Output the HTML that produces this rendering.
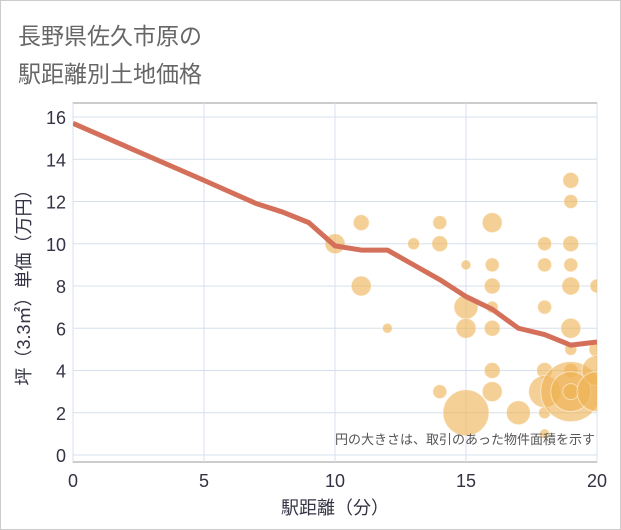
<!DOCTYPE html>
<html><head><meta charset="utf-8"><style>
body{margin:0;background:#fff;font-family:"Liberation Sans","Noto Sans CJK JP",sans-serif;}
#wrap{position:relative;width:619px;height:528px;border:1px solid #ccc;}
.t{position:absolute;left:17px;color:#666;font-size:23px;}
</style></head><body>
<div id="wrap">
<div class="t" style="top:16px">長野県佐久市原の</div>
<div class="t" style="top:54px">駅距離別土地価格</div>
<svg id="svg" width="621" height="530" style="position:absolute;left:-1px;top:-1px"><defs><clipPath id="cp"><rect x="73" y="103" width="524" height="359"/></clipPath></defs></svg>
</div>
<script>
const xTicks=[0,5,10,15,20];
const yTicks=[0,2,4,6,8,10,12,14,16];
const lineX=[0,5,7,8,9,10,11,12,13,14,15,16,17,18,19,20];
const lineY=[15.7,13.0,11.9,11.5,11.0,9.9,9.7,9.7,9.0,8.3,7.5,6.9,6.0,5.7,5.2,5.35];
const bx=[10,11,11,12,13,14,14,14,15,15,15,15,16,16,16,16,16,16,16,17,18,18,18,18,18,18,18,19,19,19,19,19,19,19,19,19,19,19,20,20,20,20];
const by=[10,11,8,6,10,11,10,3,9,7,6,2,11,9,8,7,6,4,3,2,10,9,7,4,3,2,1,13,12,10,9,8,6,5,4,3,3,3,8,5,4,3];
const br=[10,8,10,5,6,7,8,7,5,12,10,23,10,7,8,6,8,8,10,12,7,7,7,8,16,6,5,8,7,8,7,9,10,6,7,30,20,8,7,8,15,20];
const NS="http://www.w3.org/2000/svg",svg=document.getElementById('svg');
const L=73,R=597,T=103,B=462;
const sx=v=>L+v*(R-L)/20, sy=v=>455-v*(455-117)/16;
function el(t,a,par){const e=document.createElementNS(NS,t);for(const k in a)e.setAttribute(k,a[k]);(par||svg).appendChild(e);return e;}
let e=el('rect',{x:L,y:T,width:R-L,height:B-T,fill:'#fff',stroke:'#999'});


xTicks.forEach(v=>{let g=el('line',{x1:sx(v),x2:sx(v),y1:T,y2:B,stroke:'#d5e0ec'});


let t=el('text',{x:sx(v),y:487,'text-anchor':'middle','font-size':18,fill:'#334'});t.textContent=v;

});
yTicks.forEach(v=>{let g=el('line',{x1:L,x2:R,y1:sy(v),y2:sy(v),stroke:'#d5e0ec'});


let t=el('text',{x:66,y:sy(v)+7,'text-anchor':'end','font-size':18,fill:'#334'});t.textContent=v;

});
let grp=el('g',{'clip-path':'url(#cp)'});


bx.forEach((v,i)=>{let c=el('circle',{cx:sx(v),cy:sy(by[i]),r:br[i],fill:'rgba(238,176,80,0.6)',stroke:'rgba(255,255,255,0.5)'},grp);

});
let p=el('polyline',{points:lineX.map((v,i)=>sx(v)+','+sy(lineY[i])).join(' '),fill:'none',stroke:'#d4705a','stroke-width':5,'stroke-linejoin':'round'},grp);


let n=el('text',{x:595,y:444,'text-anchor':'end','font-size':13,fill:'#555'});n.textContent='円の大きさは、取引のあった物件面積を示す';


let xt=el('text',{x:335,y:514,'text-anchor':'middle','font-size':18,fill:'#334'});xt.textContent='駅距離（分）';


let yt=el('text',{x:0,y:0,'text-anchor':'middle','font-size':18,fill:'#334',transform:'translate(30,283) rotate(-90)'});yt.textContent='坪（3.3㎡）単価（万円）';


</script>
</body></html>
